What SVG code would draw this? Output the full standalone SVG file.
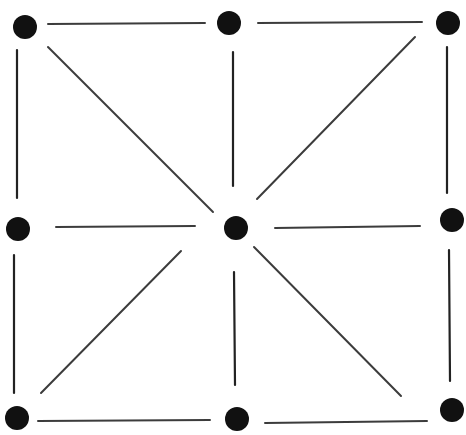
<svg xmlns="http://www.w3.org/2000/svg" width="466" height="435" viewBox="0 0 466 435">
<style>
.e{stroke:#3c3c3c;stroke-width:2;stroke-linecap:round;fill:none}
.v{stroke:#222;stroke-width:2.2}
.n{fill:#111}
</style>
<rect width="466" height="435" fill="#fff"/>
<g id="connectors">
<line class="e" x1="48" y1="24" x2="205" y2="23"/>
<line class="e" x1="258" y1="23" x2="422" y2="22"/>
<line class="e" x1="56" y1="227" x2="195" y2="226"/>
<line class="e" x1="275" y1="228" x2="420" y2="226"/>
<line class="e" x1="38" y1="421" x2="210" y2="420"/>
<line class="e" x1="265" y1="423" x2="427" y2="421"/>
<line class="e v" x1="17" y1="50" x2="17" y2="198"/>
<line class="e v" x1="14" y1="255" x2="14" y2="393"/>
<line class="e v" x1="233" y1="52" x2="233" y2="186"/>
<line class="e v" x1="234" y1="272" x2="235" y2="385"/>
<line class="e v" x1="447" y1="47" x2="447" y2="193"/>
<line class="e v" x1="449" y1="250" x2="450" y2="381"/>
<line class="e" x1="48" y1="47" x2="213" y2="212"/>
<line class="e" x1="415" y1="37" x2="257" y2="199"/>
<line class="e" x1="181" y1="251" x2="41" y2="393"/>
<line class="e" x1="254" y1="247" x2="401" y2="396"/>
</g>
<g id="n1"><circle class="n" cx="25" cy="27" r="12"/></g>
<g id="n2"><circle class="n" cx="229" cy="23" r="12"/></g>
<g id="n3"><circle class="n" cx="448" cy="23" r="12"/></g>
<g id="n4"><circle class="n" cx="18" cy="229" r="12"/></g>
<g id="n5"><circle class="n" cx="236" cy="228" r="12"/></g>
<g id="n6"><circle class="n" cx="452" cy="220" r="12"/></g>
<g id="n7"><circle class="n" cx="17" cy="418" r="12"/></g>
<g id="n8"><circle class="n" cx="237" cy="419" r="12"/></g>
<g id="n9"><circle class="n" cx="452" cy="410" r="12"/></g>
</svg>
